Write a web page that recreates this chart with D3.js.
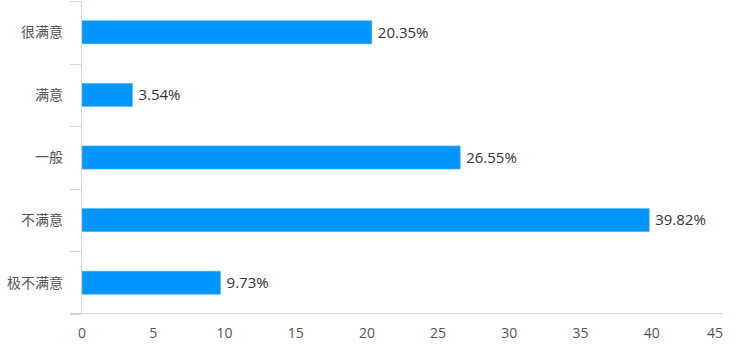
<!DOCTYPE html>
<html><head><meta charset="utf-8">
<script src="https://cdn.jsdelivr.net/npm/d3@7"></script>
<style>body{margin:0;background:#fff;}svg{display:block;}</style>
</head><body>
<svg id="c" width="754" height="363"></svg>
<script>
const categories = ["很满意", "满意", "一般", "不满意", "极不满意"];
const values = [20.35, 3.54, 26.55, 39.82, 9.73];
const xTicks = [0, 5, 10, 15, 20, 25, 30, 35, 40, 45];

const svg = d3.select("#c");
const font = "'Noto Sans CJK SC','Noto Sans',sans-serif";
const numFont = "'Open Sans','Noto Sans',sans-serif";
const x = d3.scaleLinear().domain([0, 45]).range([82, 723]);
const y = d3.scaleBand().domain(categories).range([1, 314]);
const axisColor = "#ccd6eb";

// bars
const bh = y.bandwidth() * 0.37;
svg.selectAll("rect.bar").data(values).join("rect")
  .attr("class", "bar")
  .attr("x", x(0))
  .attr("y", (d, i) => y(categories[i]) + y.bandwidth() / 2 - bh / 2)
  .attr("width", d => x(d) - x(0))
  .attr("height", bh)
  .attr("fill", "#0095ff")
  .attr("stroke", "#5fb8ff").attr("stroke-width", 0.6);

// data labels
svg.selectAll("text.dl").data(values).join("text")
  .attr("class", "dl")
  .attr("x", d => x(d) + 6)
  .attr("y", (d, i) => y(categories[i]) + y.bandwidth() / 2)
  .attr("dy", "0.35em")
  .attr("font-family", numFont).attr("font-size", 15).attr("fill", "#333")
  .text(d => d.toFixed(2) + "%");

// y axis
svg.append("line").attr("x1", 81.5).attr("x2", 81.5).attr("y1", 1).attr("y2", 314)
  .attr("stroke", axisColor);
const bounds = categories.map(c => y(c)).concat([y.range()[1]]);
svg.selectAll("line.yt").data(bounds).join("line").attr("class", "yt")
  .attr("x1", 70).attr("x2", 81).attr("y1", d => Math.round(d) + 0.5).attr("y2", d => Math.round(d) + 0.5)
  .attr("stroke", axisColor);
svg.selectAll("text.yl").data(categories).join("text").attr("class", "yl")
  .attr("x", 63).attr("y", d => y(d) + y.bandwidth() / 2).attr("dy", "0.35em")
  .attr("text-anchor", "end")
  .attr("font-family", font).attr("font-size", 14).attr("fill", "#555")
  .text(d => d);

// x axis
svg.append("line").attr("x1", 70).attr("x2", 723).attr("y1", 313.5).attr("y2", 313.5)
  .attr("stroke", axisColor);
svg.selectAll("text.xl").data(xTicks).join("text").attr("class", "xl")
  .attr("x", d => x(d))
  .attr("y", 333).attr("dy", "0.35em")
  .attr("text-anchor", (d, i) => i === xTicks.length - 1 ? "end" : "middle")
  .attr("font-family", numFont).attr("font-size", 14).attr("fill", "#555")
  .text(d => d);
</script>
</body></html>
